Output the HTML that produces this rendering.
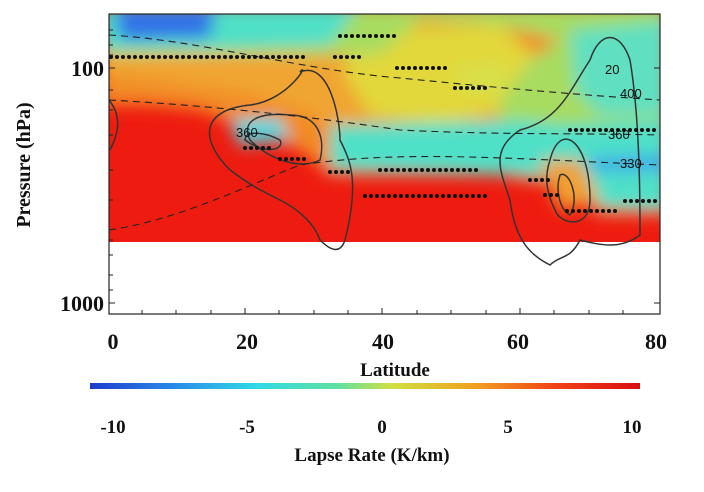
<!DOCTYPE html>
<html><head><meta charset="utf-8"><style>
body{margin:0;background:#fff;width:704px;height:492px;overflow:hidden}
svg{display:block}
text{font-family:"Liberation Serif",serif;font-weight:bold;fill:#111}
</style></head><body>
<svg width="704" height="492" viewBox="0 0 704 492">
<defs>
<filter id="b" x="-10%" y="-10%" width="120%" height="120%"><feGaussianBlur stdDeviation="8"/></filter>
<clipPath id="c"><rect x="109" y="14" width="551" height="228"/></clipPath>
<linearGradient id="cb" x1="0" x2="1">
<stop offset="0" stop-color="#1e3ccc"/><stop offset="0.15" stop-color="#2a8ae8"/>
<stop offset="0.3" stop-color="#30d8e8"/><stop offset="0.45" stop-color="#60e0a0"/>
<stop offset="0.55" stop-color="#d0e040"/><stop offset="0.7" stop-color="#f0a020"/>
<stop offset="0.85" stop-color="#f04018"/><stop offset="1" stop-color="#d81010"/></linearGradient>
</defs>
<g clip-path="url(#c)">
<rect x="100" y="5" width="570" height="250" fill="#ee1c10"/>
<g filter="url(#b)">
<polygon fill="#f38a26" points="100,5 670,5 670,215 600,215 560,185 520,180 500,175 330,175 300,150 250,130 200,110 150,105 100,105"/>
<polygon fill="#f0a530" points="100,50 330,55 360,30 510,30 500,120 470,120 330,125 300,110 250,95 150,80 100,75"/>
<polygon fill="#e2d83a" points="350,30 500,25 540,60 500,110 440,125 370,115 345,75"/>
<polygon fill="#a8dc60" points="100,5 670,5 670,150 610,145 560,140 500,135 500,100 530,60 560,40 500,25 420,20 380,55 300,55 100,55"/>
<polygon fill="#d8e048" points="450,70 500,60 510,90 470,95"/>
<polygon fill="#50e0c8" points="100,5 360,5 330,45 200,50 100,50"/>
<polygon fill="#50e0c8" points="330,125 520,120 560,125 670,120 670,210 600,208 560,180 520,175 330,170"/>
<polygon fill="#60e0c0" points="570,30 670,20 670,115 600,115 575,90"/>
<polygon fill="#f0a030" points="540,160 580,160 600,200 560,210"/>
<polygon fill="#3070e8" points="115,8 215,8 210,38 120,40"/>
<polygon fill="#3aa0f0" points="590,158 670,156 670,170 590,170"/>
<polygon fill="#50d8e0" points="230,120 280,118 290,140 240,145"/>
</g>
<rect x="100" y="242" width="570" height="20" fill="#fff"/>
</g>
<g fill="none" stroke="#333" stroke-width="1.5">
<path d="M109,100 C125,120 115,140 110,150"/>
<path d="M230,170 C200,140 200,110 250,105 C290,100 310,60 300,72 C330,60 340,120 340,140 C350,160 360,180 345,240 C340,255 330,250 320,240 C315,225 300,210 280,200 C260,190 250,185 230,170Z"/>
<path d="M250,140 C240,120 260,112 290,115 C320,115 325,140 320,160 C300,170 270,160 250,140Z"/>
<path d="M245,140 C245,130 265,132 280,140 C285,150 265,155 245,140Z"/>
<path d="M590,60 C600,30 620,30 630,60 C640,120 640,200 640,235 C620,250 600,245 580,240 C570,260 560,255 550,265 C530,255 515,240 510,200 C500,170 490,150 520,130 C560,120 570,90 590,60Z"/>
<path d="M550,160 C560,120 590,140 590,200 C590,230 560,225 555,210 C545,190 545,175 550,160Z"/>
<path d="M560,175 C570,170 580,200 570,215 C560,210 555,190 560,175Z"/>
</g>
<g fill="none" stroke="#222" stroke-width="1.1" stroke-dasharray="7,5">
<path d="M109,35 C200,40 300,70 400,78 C500,88 580,95 660,100"/>
<path d="M109,100 C200,105 300,115 400,130 C500,135 580,133 660,135"/>
<path d="M109,230 C180,220 260,180 300,165 C400,150 500,158 660,165"/>
</g>
<g stroke="#111" stroke-width="4" stroke-linecap="round" stroke-dasharray="0,6" fill="none">
<path d="M111,57 H305"/><path d="M340,36 H395"/><path d="M335,57 H360"/>
<path d="M397,68 H450"/><path d="M455,88 H490"/><path d="M245,148 H270"/>
<path d="M280,159 H305"/><path d="M330,172 H350"/><path d="M365,196 H490"/>
<path d="M380,170 H480"/><path d="M530,180 H550"/><path d="M545,195 H560"/>
<path d="M567,211 H620"/><path d="M625,201 H660"/><path d="M570,130 H660"/>
</g>
<g font-size="13" font-family="Liberation Sans" fill="#333">
<text x="236" y="137" style="font-weight:normal;font-family:'Liberation Sans',sans-serif">360</text>
<text x="620" y="98" style="font-weight:normal;font-family:'Liberation Sans',sans-serif">400</text>
<text x="608" y="139" style="font-weight:normal;font-family:'Liberation Sans',sans-serif">360</text>
<text x="620" y="168" style="font-weight:normal;font-family:'Liberation Sans',sans-serif">330</text>
<text x="605" y="74" style="font-weight:normal;font-family:'Liberation Sans',sans-serif">20</text>
</g>
<rect x="109" y="14" width="551" height="300" fill="none" stroke="#222" stroke-width="1.2"/>
<g stroke="#222" stroke-width="1">
<path d="M109,68 h6 M109,303 h6 M660,68 h-6 M660,303 h-6 M109,30 h4 M109,45 h4 M109,55 h4 M109,90 h4 M109,110 h4 M109,135 h4 M109,170 h4 M109,200 h4 M109,240 h4 M109,255 h4 M109,275 h4 M109,290 h4"/>
<path d="M142,314 v-4 M176,314 v-4 M211,314 v-4 M245,314 v-6 M279,314 v-4 M314,314 v-4 M348,314 v-4 M382,314 v-6 M417,314 v-4 M451,314 v-4 M486,314 v-4 M520,314 v-6 M554,314 v-4 M589,314 v-4 M623,314 v-4"/>
</g>
<g font-size="22" text-anchor="middle">
<text x="113" y="349">0</text><text x="247" y="349">20</text><text x="383" y="349">40</text><text x="518" y="349">60</text><text x="656" y="349">80</text>
<text x="395" y="376" font-size="19">Latitude</text>
</g>
<g font-size="22" text-anchor="end"><text x="104" y="76">100</text><text x="104" y="311">1000</text></g>
<text transform="translate(30,165) rotate(-90)" font-size="20" text-anchor="middle">Pressure (hPa)</text>
<rect x="90" y="383" width="550" height="6" fill="url(#cb)"/>
<g font-size="19" text-anchor="middle">
<text x="113" y="433">-10</text><text x="247" y="433">-5</text><text x="382" y="433">0</text><text x="508" y="433">5</text><text x="632" y="433">10</text>
<text x="372" y="461">Lapse Rate (K/km)</text>
</g>
</svg>
</body></html>
